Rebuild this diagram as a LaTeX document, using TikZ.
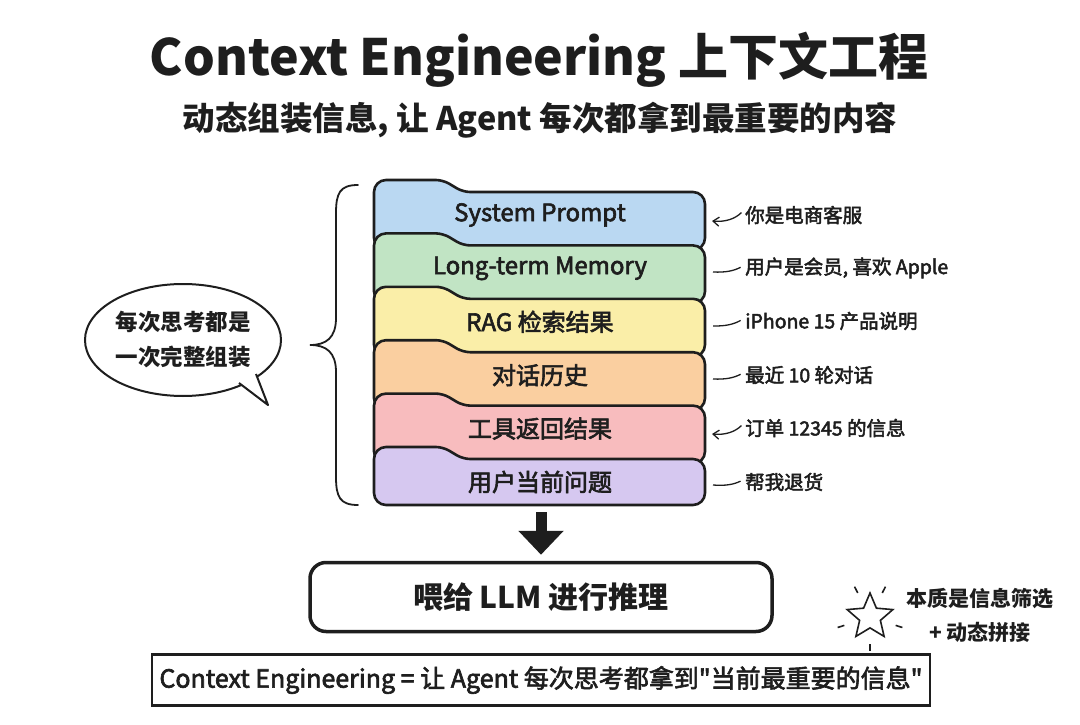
\documentclass[tikz,border=0pt]{standalone}
\usepackage{fontspec}
\setmainfont{Noto Sans CJK SC}[Ligatures=TeXOff]
\newfontfamily\medfont{Noto Sans CJK SC}[Ligatures=TeXOff, FakeBold=2.5]
\usetikzlibrary{arrows.meta,shapes.geometric,calc}
\definecolor{cblue}{RGB}{186,216,242}
\definecolor{cgreen}{RGB}{193,228,196}
\definecolor{cyellow}{RGB}{250,238,168}
\definecolor{corange}{RGB}{250,207,160}
\definecolor{cpink}{RGB}{248,188,190}
\definecolor{cpurple}{RGB}{214,200,240}
\definecolor{ink}{RGB}{30,30,30}
\newcommand\tabcard[3]{%
  \filldraw[cardline, fill=#2] (374,#1+30) [rounded corners=12] -- (374,#1)
    [rounded corners=7] -- (443,#1) -- (463,#1+12)
    [rounded corners=12] -- (705,#1+12) -- (705,#3) -- (374,#3) -- cycle;}
\begin{document}
\begin{tikzpicture}[x=1pt,y=-1pt,
  cardline/.style={line width=2.6pt, draw=ink},
  cardtext/.style={inner sep=0pt, text=ink, font=\fontsize{24}{28}\medfont},
  ann/.style={anchor=west, inner sep=0pt, text=ink, font=\fontsize{19.5}{24}\medfont},
  annline/.style={line width=1.3pt, draw=ink, shorten <=5pt},
  annarrow/.style={annline, -{Straight Barb[length=6pt,width=9pt]}}]
\useasboundingbox[fill=white] (0,0) rectangle (1080,725);

% titles
\node[inner sep=0pt, text=ink] (title) at (539,60) {\fontsize{50}{56}\selectfont\bfseries Context Engineering 上下文工程};
\node[inner sep=0pt, text=ink] (subtitle) at (540,120) {\fontsize{32.5}{36}\selectfont\bfseries 动态组装信息, 让 Agent 每次都拿到最重要的内容};

% stacked cards
\tabcard{180}{cblue}{250}
\tabcard{233.4}{cgreen}{303.4}
\tabcard{286.8}{cyellow}{356.8}
\tabcard{340.2}{corange}{410.2}
\tabcard{393.6}{cpink}{463.6}
\tabcard{447}{cpurple}{505}

\node[cardtext] (c1) at (540,215) {System Prompt};
\node[cardtext] (c2) at (540,268.4) {Long-term Memory};
\node[cardtext] (c3) at (540,321.8) {RAG 检索结果};
\node[cardtext] (c4) at (540,375.2) {对话历史};
\node[cardtext] (c5) at (540,428.6) {工具返回结果};
\node[cardtext] (c6) at (540,482) {用户当前问题};

% right annotations
\node[ann] (a1) at (745,215) {你是电商客服};
\node[ann] (a2) at (745,268) {用户是会员, 喜欢 Apple};
\node[ann] (a3) at (745,321) {iPhone 15 产品说明};
\node[ann] (a4) at (745,375) {最近 10 轮对话};
\node[ann] (a5) at (745,428) {订单 12345 的信息};
\node[ann] (a6) at (745,482) {帮我退货};
\coordinate (k1) at (712,221);
\coordinate (k2) at (713,272);
\coordinate (k3) at (713,326);
\coordinate (k4) at (713,379);
\coordinate (k5) at (712,434);
\coordinate (k6) at (713,485);
\draw[annarrow] ($(a1.west)+(0,-6)$) to[bend left=25] (k1);
\draw[annline] ($(a2.west)+(0,-3)$) to[bend left=15] (k2);
\draw[annline] ($(a3.west)+(0,-3)$) to[bend left=15] (k3);
\draw[annline] ($(a4.west)+(0,-3)$) to[bend left=15] (k4);
\draw[annarrow] ($(a5.west)+(0,-6)$) to[bend left=25] (k5);
\draw[annline] ($(a6.west)+(0,-3)$) to[bend left=15] (k6);

% brace
\draw[line width=1.8pt, draw=ink, line cap=round]
  (358,185) .. controls (340,185) and (336,193) .. (336,213) -- (336,318)
  .. controls (336,338) and (326,345) .. (310,345)
  .. controls (326,345) and (336,352) .. (336,372) -- (336,477)
  .. controls (336,497) and (340,505) .. (358,505);

% speech bubble
\node[ellipse, draw=ink, fill=white, line width=2pt, minimum width=196pt, minimum height=112pt, inner sep=0pt,
  align=center, text=ink, font=\fontsize{22.5}{35}\selectfont\bfseries] (bubble) at (183,340) {每次思考都是\\一次完整组装};
\coordinate (tb1) at (239,383);
\coordinate (tip) at (268,405);
\coordinate (tb2) at (256,374);
\fill[white] (tb1) -- (tip) -- (tb2) -- cycle;
\draw[line width=2pt, draw=ink, line join=round] (tb1) -- (tip) -- (tb2);

% LLM box and arrow
\node[draw=ink, line width=3.5pt, rounded corners=16pt, minimum width=462pt, minimum height=69pt,
  text=ink, font=\fontsize{30}{36}\selectfont\bfseries] (llm) at (541,597) {喂给 LLM 进行推理};
\coordinate (stackbot) at (541,512);
\draw[line width=11pt, draw=ink, -{Triangle[width=44pt,length=24pt]}] (stackbot) -- ($(llm.north)+(0,-6)$);

% star note
\node[star, star points=5, star point ratio=2.2, draw=ink, line width=1.6pt, minimum size=48pt, inner sep=0pt] (star) at (870,617) {};
\foreach \a in {117,63,198,-18,-90}
  \draw[line width=1.6pt, draw=ink] ($(star.center)+(\a:27pt)$) -- ($(star.center)+(\a:34pt)$);
\node[align=center, text=ink, inner sep=0pt, font=\fontsize{21}{34}\selectfont\bfseries] (ess) at (980,615) {本质是信息筛选\\+ 动态拼接};

% summary box
\node[draw=ink, line width=2.5pt, minimum width=778pt, minimum height=51pt, text=ink,
  font=\fontsize{25}{28}\medfont] (summary) at (541,680) {Context Engineering = 让 Agent 每次思考都拿到"当前最重要的信息"};
\end{tikzpicture}
\end{document}
